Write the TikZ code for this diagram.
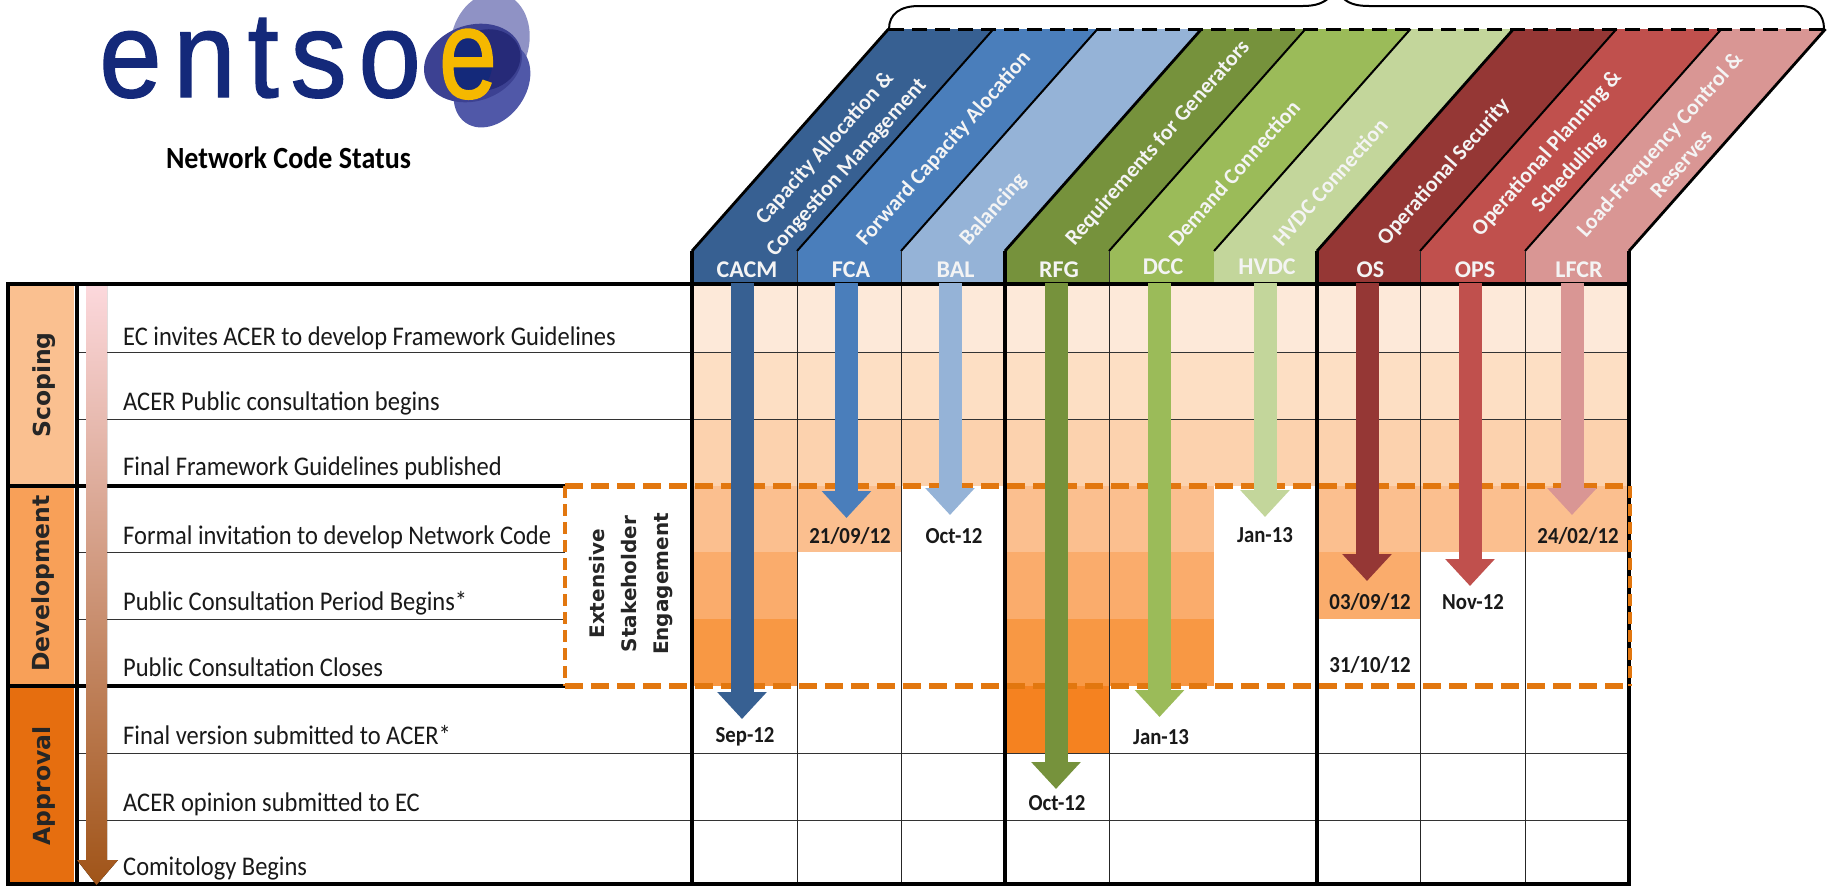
\documentclass[tikz,border=0pt]{standalone}
\usepackage{fontspec}
\usepackage{graphicx}
\setmainfont{Carlito}
\newfontfamily\arialf[FakeBold=1.2]{Liberation Sans}
\newfontfamily\arialspaced[LetterSpace=10.5,FakeBold=1.2]{Liberation Sans}
\newfontfamily\verdf{DejaVu Sans}
\usetikzlibrary{arrows.meta}
\definecolor{cCACM}{HTML}{376092}
\definecolor{cFCA}{HTML}{4A7EBB}
\definecolor{cBAL}{HTML}{95B3D7}
\definecolor{cRFG}{HTML}{76923C}
\definecolor{cDCC}{HTML}{9BBB59}
\definecolor{cHVDC}{HTML}{C3D69B}
\definecolor{cOS}{HTML}{953735}
\definecolor{cOPS}{HTML}{C0504D}
\definecolor{cLFCR}{HTML}{D99694}
\definecolor{rowA}{HTML}{FDE9D9}
\definecolor{rowB}{HTML}{FDDFC4}
\definecolor{rowC}{HTML}{FCD2AE}
\definecolor{rowD}{HTML}{FBBF8F}
\definecolor{rowE}{HTML}{FAAC6C}
\definecolor{rowF}{HTML}{F89844}
\definecolor{rowG}{HTML}{F58220}
\definecolor{dashorange}{HTML}{E2770F}
\definecolor{logoblue}{HTML}{14297A}
\definecolor{headwhite}{HTML}{F4F4F4}
\newcommand{\tallt}[1]{\scalebox{1}[1.1]{#1}}
\tikzset{
  rowlabel/.style={anchor=base west,inner sep=0pt,font=\fontsize{24.5}{27}\selectfont,text=black!90},
  datelabel/.style={anchor=center,inner sep=0pt,font=\bfseries\fontsize{20.8}{24}\selectfont,text=black!90},
  codelabel/.style={anchor=center,inner sep=0pt,font=\bfseries\fontsize{24}{27}\selectfont,text=headwhite},
  slantlabel/.style={anchor=center,inner sep=0pt,rotate=48.5,align=center,font=\bfseries\fontsize{22}{29}\selectfont,text=headwhite},
  phaselabel/.style={anchor=center,inner sep=0pt,rotate=90,font=\verdf\bfseries\fontsize{23.5}{26}\selectfont,text=black!85},
  engagelabel/.style={anchor=center,inner sep=0pt,rotate=90,align=center,font=\verdf\bfseries\fontsize{20}{32}\selectfont,text=black!85},
  thickline/.style={line width=4.5pt,black},
  midline/.style={line width=3.5pt,black},
  thinline/.style={line width=1pt,black!80},
  orangedash/.style={line width=5.5pt,dashorange,dash pattern=on 18pt off 8pt},
  orangedashv/.style={line width=3.5pt,dashorange,dash pattern=on 12pt off 6pt},
  blockarrow/.style={line width=23pt,draw=#1,-{Triangle[length=27pt,width=48pt]}},
}
\begin{document}
\begin{tikzpicture}[x=1pt,y=-1pt]
\useasboundingbox (0,0) rectangle (1827,887);
\fill[white] (0,0) rectangle (1827,887);

% ---- logo
\node[anchor=base west,inner sep=0pt,text=logoblue,font=\arialspaced\fontsize{122}{130}\selectfont] (logotext) at (99,97) {\scalebox{.92}[1]{entso}};
\fill[color={rgb,255:red,143;green,146;blue,197},rotate around={-14:(490,42)}] (490,42) ellipse (39 and 50);
\fill[color={rgb,255:red,80;green,88;blue,168},rotate around={-35:(492,85)}] (492,85) ellipse (34 and 46);
\fill[color={rgb,255:red,60;green,65;blue,146},rotate around={18:(473,63)}] (473,63) ellipse (50 and 38);
\fill[color={rgb,255:red,38;green,42;blue,120},rotate around={20:(485,60)}] (485,60) ellipse (36 and 30);
\fill[logoblue] (468,65) ellipse (24 and 28);
\node[anchor=base,inner sep=0pt,text={rgb,255:red,245;green,184;blue,0},font=\arialf\fontsize{128}{130}\selectfont] (logoe) at (468,98) {\scalebox{.82}[1]{e}};
\node[anchor=center,inner sep=0pt,font=\bfseries\fontsize{28}{32}\selectfont,text=black] (title) at (288.5,158) {\tallt{Network Code Status}};

% ---- column fills
\foreach \xl/\xr/\yb in {692/797/686,797/901/552,901/1005/486,1005/1109/753,1109/1214/686,1214/1317/486,1317/1420/619,1420/1525/552,1525/1629/552}{
  \fill[rowA] (\xl,284) rectangle (\xr,352);
  \fill[rowB] (\xl,352) rectangle (\xr,419);
  \fill[rowC] (\xl,419) rectangle (\xr,486);
  \ifnum\yb>486 \fill[rowD] (\xl,486) rectangle (\xr,552); \fi
  \ifnum\yb>552 \fill[rowE] (\xl,552) rectangle (\xr,619); \fi
  \ifnum\yb>619 \fill[rowF] (\xl,619) rectangle (\xr,686); \fi
  \ifnum\yb>686 \fill[rowG] (\xl,686) rectangle (\xr,753); \fi
}

% ---- phase column fills
\fill[color={rgb,255:red,250;green,192;blue,144}] (9,286) rectangle (74,485);
\fill[color={rgb,255:red,248;green,160;blue,88}] (9,487) rectangle (74,685);
\fill[color={rgb,255:red,230;green,110;blue,15}] (9,687) rectangle (74,883);

% ---- headers
\foreach \xl/\xr/\col in {692/797/cCACM,797/901/cFCA,901/1005/cBAL,1005/1109/cRFG,1109/1214/cDCC,1214/1317/cHVDC,1317/1420/cOS,1420/1525/cOPS,1525/1629/cLFCR}{
  \fill[\col] (\xl,284) -- (\xl,251) -- ({\xl+196.5},29) -- ({\xr+196.5},29) -- (\xr,251) -- (\xr,284) -- cycle;
}
\foreach \xl in {797,901,1109,1214,1420,1525}{
  \draw[line width=2pt,black] (\xl,251) -- ({\xl+196.5},29);
}
\foreach \xl in {692,1005,1317,1629}{
  \draw[line width=2.8pt,black] (\xl,251) -- ({\xl+196.5},29);
}
\draw[line width=3pt,black,dash pattern=on 15pt off 8pt] (889,29) -- (1824,29);
\draw[line width=2pt,black] (889,29) .. controls (889,14) and (900,6) .. (919,6) -- (1303,6)
  .. controls (1316,6) and (1324,3) .. (1331,-4);
\draw[line width=2pt,black] (1341,-4) .. controls (1347,3) and (1355,6) .. (1369,6) -- (1801,6)
  .. controls (1815,6) and (1824,14) .. (1824,29);

% ---- grid
\foreach \yy in {352,419}{ \draw[thinline] (77,\yy) -- (1629,\yy); }
\foreach \yy in {552,619}{ \draw[thinline] (77,\yy) -- (565,\yy); }
\foreach \yy in {753,820}{ \draw[thinline] (77,\yy) -- (1629,\yy); }
\foreach \xx in {797,901,1109,1420,1525}{ \draw[line width=1pt,black!85] (\xx,251) -- (\xx,884); }
\foreach \xx in {692,1005,1317,1629}{ \draw[midline] (\xx,251) -- (\xx,884); }
\draw[midline] (77,284) -- (77,884);
\draw[midline] (8,284) -- (8,884);
\draw[thickline] (6,284) -- (1631,284);
\draw[thickline] (6,884) -- (1631,884);
\draw[thickline] (6,486) -- (565,486);
\draw[thickline] (6,686) -- (565,686);

% ---- dashed box
\draw[orangedash] (565,486) -- (1630,486);
\draw[orangedash] (565,686) -- (1630,686);
\draw[orangedashv] (565,486) -- (565,686);
\draw[orangedashv] (1630,486) -- (1630,686);

% ---- process arrow
\fill[top color={rgb,255:red,252;green,216;blue,220},bottom color={rgb,255:red,160;green,84;blue,24}]
  (86,286) -- (107,286) -- (107,860) -- (118,860) -- (96.5,885) -- (77,860) -- (86,860) -- cycle;

% ---- code arrows
\coordinate (t1) at (742,283); \coordinate (e1) at (742,719);
\coordinate (t2) at (846.5,283); \coordinate (e2) at (846.5,518);
\coordinate (t3) at (950,283); \coordinate (e3) at (950,515);
\coordinate (t4) at (1056,283); \coordinate (e4) at (1056,789);
\coordinate (t5) at (1159.5,283); \coordinate (e5) at (1159.5,717);
\coordinate (t6) at (1265,283); \coordinate (e6) at (1265,517);
\coordinate (t7) at (1367,283); \coordinate (e7) at (1367,581);
\coordinate (t8) at (1470,283); \coordinate (e8) at (1470,586);
\coordinate (t9) at (1572,283); \coordinate (e9) at (1572,515);
\draw[blockarrow=cCACM] (t1) -- (e1);
\draw[blockarrow=cFCA] (t2) -- (e2);
\draw[blockarrow=cBAL] (t3) -- (e3);
\draw[blockarrow=cRFG] (t4) -- (e4);
\draw[blockarrow=cDCC] (t5) -- (e5);
\draw[blockarrow=cHVDC] (t6) -- (e6);
\draw[blockarrow=cOS] (t7) -- (e7);
\draw[blockarrow=cOPS] (t8) -- (e8);
\draw[blockarrow=cLFCR] (t9) -- (e9);

% ---- code labels
\node[codelabel] (cacm) at (747,270) {CACM};
\node[codelabel] (fca) at (851,270) {FCA};
\node[codelabel] (bal) at (955.5,270) {BAL};
\node[codelabel] (rfg) at (1059,270) {RFG};
\node[codelabel] (dcc) at (1163,267) {DCC};
\node[codelabel] (hvdc) at (1267,267) {HVDC};
\node[codelabel] (os) at (1370.5,270) {OS};
\node[codelabel] (ops) at (1475,270) {OPS};
\node[codelabel] (lfcr) at (1579,270) {LFCR};

% ---- slanted labels
\node[slantlabel] (lcacm) at (836,158) {Capacity Allocation \&\\Congestion Management};
\node[slantlabel] (lfca) at (944,149) {Forward Capacity Alocation};
\node[slantlabel] (lbal) at (993.5,210) {Balancing};
\node[slantlabel] (lrfg) at (1158,143) {Requirements for Generators};
\node[slantlabel] (ldcc) at (1234,173) {Demand Connection};
\node[slantlabel] (lhvdc) at (1330,182) {HVDC Connection};
\node[slantlabel] (los) at (1444,172) {Operational Security};
\node[slantlabel] (lops) at (1558,163) {Operational Planning \&\\Scheduling};
\node[slantlabel] (llfcr) at (1670,154) {Load-Frequency Control \&\\Reserves};

% ---- phase labels
\node[phaselabel] (scoping) at (44,385) {Scoping};
\node[phaselabel] (development) at (43,583.5) {Development};
\node[phaselabel] (approval) at (44,786) {Approval};
\node[engagelabel] (engage) at (631,584) {Extensive\\Stakeholder\\Engagement};

% ---- row labels
\node[rowlabel] (r1) at (123,345) {\tallt{EC invites ACER to develop Framework Guidelines}};
\node[rowlabel] (r2) at (123,410) {\tallt{ACER Public consultation begins}};
\node[rowlabel] (r3) at (123,475) {\tallt{Final Framework Guidelines published}};
\node[rowlabel] (r4) at (123,544) {\tallt{Formal invitation to develop Network Code}};
\node[rowlabel] (r5) at (123,610) {\tallt{Public Consultation Period Begins*}};
\node[rowlabel] (r6) at (123,676) {\tallt{Public Consultation Closes}};
\node[rowlabel] (r7) at (123,744) {\tallt{Final version submitted to ACER*}};
\node[rowlabel] (r8) at (123,811) {\tallt{ACER opinion submitted to EC}};
\node[rowlabel] (r9) at (123,875) {\tallt{Comitology Begins}};

% ---- dates
\node[datelabel] (d1) at (745,737) {\tallt{Sep-12}};
\node[datelabel] (d2) at (850,536) {\tallt{21/09/12}};
\node[datelabel] (d3) at (954,536) {\tallt{Oct-12}};
\node[datelabel] (d4) at (1057,803) {\tallt{Oct-12}};
\node[datelabel] (d5) at (1161,737) {\tallt{Jan-13}};
\node[datelabel] (d6) at (1265,535) {\tallt{Jan-13}};
\node[datelabel] (d7) at (1370,602) {\tallt{03/09/12}};
\node[datelabel] (d8) at (1370,665) {\tallt{31/10/12}};
\node[datelabel] (d9) at (1473,602) {\tallt{Nov-12}};
\node[datelabel] (d10) at (1578,536) {\tallt{24/02/12}};
\end{tikzpicture}
\end{document}
